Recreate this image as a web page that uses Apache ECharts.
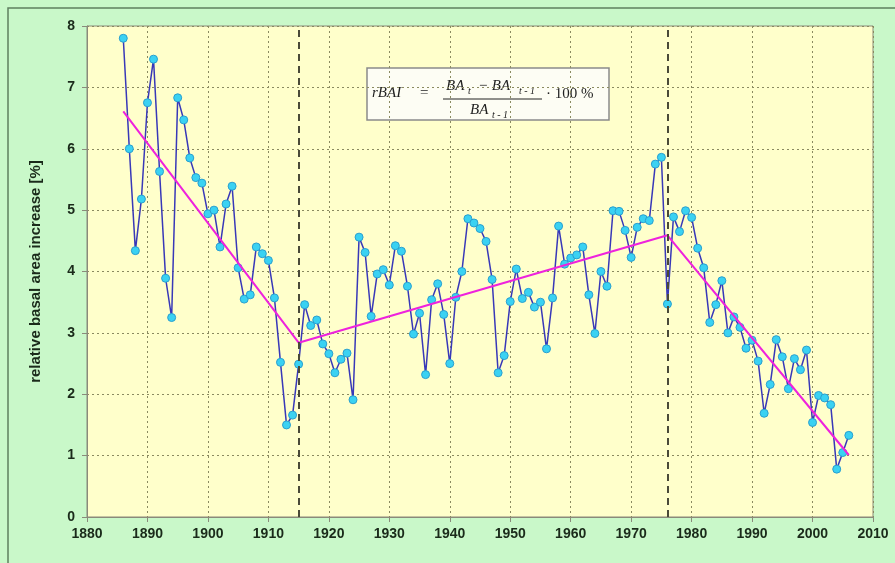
<!DOCTYPE html>
<html>
<head>
<meta charset="utf-8">
<script src="https://cdn.jsdelivr.net/npm/echarts@6/dist/echarts.min.js"></script>
<style>html,body{margin:0;padding:0;background:#c9f8c9;}#c{width:895px;height:563px;}</style>
</head>
<body>
<div id="c"></div>
<script>
const firstYear = 1886;
const rbai = [
7.80,6.00,4.34,5.18,6.75,7.46,5.63,3.89,3.25,6.83,
6.47,5.85,5.53,5.44,4.94,5.00,4.40,5.10,5.39,4.06,
3.55,3.62,4.40,4.29,4.18,3.57,2.52,1.50,1.66,2.49,
3.46,3.12,3.21,2.82,2.66,2.35,2.57,2.67,1.91,4.56,
4.31,3.27,3.96,4.03,3.78,4.42,4.33,3.76,2.98,3.32,
2.32,3.54,3.80,3.30,2.50,3.58,4.00,4.86,4.79,4.70,
4.49,3.87,2.35,2.63,3.51,4.04,3.56,3.66,3.42,3.50,
2.74,3.57,4.74,4.12,4.22,4.27,4.40,3.62,2.99,4.00,
3.76,4.99,4.98,4.67,4.23,4.72,4.86,4.83,5.75,5.86,
3.47,4.89,4.65,4.99,4.88,4.38,4.06,3.17,3.46,3.85,
3.00,3.26,3.09,2.75,2.88,2.54,1.69,2.16,2.89,2.61,
2.09,2.58,2.40,2.72,1.54,1.98,1.94,1.83,0.78,1.05,
1.33
];
const trendYears = [1886, 1915, 1976, 2006];
const trendValues = [6.61, 2.84, 4.59, 1.01];
const breakYears = [1915, 1976];
const xTicks = [1880, 2010, 10];
const yTicks = [0, 8, 1];
const yName = 'relative basal area increase [%]';

const seriesData = rbai.map((v, i) => [firstYear + i, v]);
const trendData = trendYears.map((y, i) => [y, trendValues[i]]);

const chart = echarts.init(document.getElementById('c'));
const lab = {color: '#1a2a1a', fontFamily: 'Liberation Sans, Arial', fontWeight: 'bold', fontSize: 14};
const serif = 'Liberation Serif, Times New Roman, serif';
function t(x, y, text, size, italic) {
  return {type: 'text', x: x, y: y, style: {text: text, fontFamily: serif, fontStyle: italic ? 'italic' : 'normal', fontSize: size, fill: '#222', verticalAlign: 'middle'}};
}
chart.setOption({
  backgroundColor: '#c9f8c9',
  animation: false,
  grid: {left: 87, right: 22, top: 26, bottom: 46, show: true, backgroundColor: '#ffffcb', borderColor: '#8a8a7a', borderWidth: 1},
  xAxis: {
    type: 'value', min: xTicks[0], max: xTicks[1], interval: xTicks[2],
    axisLine: {show: true, lineStyle: {color: '#8a8a7a', width: 1}},
    axisTick: {show: true, length: 5, lineStyle: {color: '#8a8a7a'}},
    axisLabel: Object.assign({margin: 10, formatter: v => String(v)}, lab),
    splitLine: {show: true, lineStyle: {color: '#8a8a60', type: [2, 3], width: 1}}
  },
  yAxis: {
    type: 'value', min: yTicks[0], max: yTicks[1], interval: yTicks[2],
    name: yName, nameLocation: 'middle', nameGap: 44,
    nameTextStyle: {color: '#1a2a1a', fontFamily: 'Liberation Sans, Arial', fontWeight: 'bold', fontSize: 15},
    axisLine: {show: true, lineStyle: {color: '#8a8a7a', width: 1}},
    axisTick: {show: true, length: 5, lineStyle: {color: '#8a8a7a'}},
    axisLabel: Object.assign({margin: 12}, lab),
    splitLine: {show: true, lineStyle: {color: '#8a8a60', type: [2, 3], width: 1}}
  },
  graphic: [
    {type: 'rect', z: -10, silent: true, shape: {x: 8, y: 8, width: 920, height: 600}, style: {fill: 'none', stroke: '#5f7f5f', lineWidth: 1.5}},
    {type: 'group', z: 100, children: [
      {type: 'rect', shape: {x: 367, y: 68, width: 242, height: 52}, style: {fill: '#fdfdf4', stroke: '#8a8a8a', lineWidth: 1.5}},
      t(372, 93, 'rBAI', 15, true),
      t(420, 93, '=', 15, false),
      t(446, 86, 'BA', 15, true),
      t(468, 91, 't', 10, true),
      t(478, 86, '− BA', 15, true),
      t(519, 91, 't - 1', 10, true),
      {type: 'line', shape: {x1: 443, y1: 99, x2: 542, y2: 99}, style: {stroke: '#222', lineWidth: 1}},
      t(470, 110, 'BA', 15, true),
      t(492, 115, 't - 1', 10, true),
      t(546, 94, '· 100 %', 15, false)
    ]}
  ],
  series: [
    {
      type: 'line', data: seriesData, z: 3,
      lineStyle: {color: '#3838b8', width: 1.5},
      symbol: 'circle', symbolSize: 8, showSymbol: true,
      itemStyle: {color: '#3ad2f2', borderColor: '#2a9fcf', borderWidth: 1},
      markLine: {
        silent: true, symbol: 'none', label: {show: false},
        lineStyle: {color: '#4a4a38', type: [7, 5], width: 2},
        data: breakYears.map(y => ({xAxis: y}))
      }
    },
    {
      type: 'line', data: trendData, z: 4, symbol: 'none',
      lineStyle: {color: '#ee22dd', width: 2}
    }
  ]
});
</script>
</body>
</html>
